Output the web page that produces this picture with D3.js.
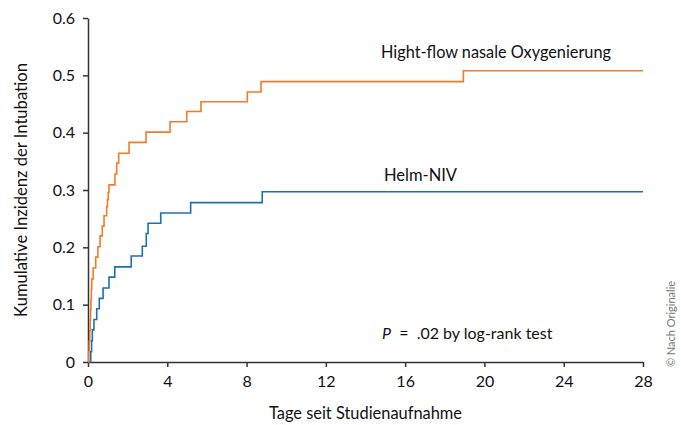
<!DOCTYPE html>
<html>
<head>
	<meta charset="utf-8">
	<title>Kumulative Inzidenz der Intubation</title>
	<script type="text/javascript" src="https://cdn.jsdelivr.net/npm/d3@7"></script>
	<style>
		body { margin: 0; background: #fff; }
		svg text { font-family: Lato, "Open Sans", sans-serif; fill: #111; }
		.axis path, .axis line { stroke: #333; stroke-width: 1.5; }
		.axis text { font-size: 16px; }
	</style>
</head>
<body>

	<div id="chart"></div>

	<script type="text/javascript">

	/* Kaplan-Meier Stufen: Zeit (Tage) und kumulative Inzidenz */
	var hfnoTime  = [0, 0.03, 0.06, 0.09, 0.11, 0.13, 0.15, 0.17, 0.19, 0.26, 0.39, 0.5, 0.61, 0.72, 0.81, 0.94, 0.98, 1.02, 1.06,
		1.36, 1.45, 1.55, 2.07, 2.93, 4.14, 4.98, 5.70, 8.04, 8.73, 18.94, 28];
	var hfnoValue = [0, 0.018, 0.036, 0.055, 0.073, 0.091, 0.109, 0.127, 0.145, 0.164, 0.183, 0.201, 0.22, 0.237, 0.255, 0.271, 0.283, 0.296, 0.309,
		0.328, 0.347, 0.364, 0.383, 0.401, 0.419, 0.437, 0.454, 0.471, 0.489, 0.508, 0.508];

	var helmTime  = [0, 0.14, 0.18, 0.22, 0.30, 0.44, 0.57, 0.76, 1.06, 1.35, 2.18, 2.74, 2.94, 3.03, 3.67, 5.18, 8.79, 28];
	var helmValue = [0, 0.018, 0.037, 0.056, 0.074, 0.093, 0.111, 0.129, 0.148, 0.166, 0.185, 0.202, 0.224, 0.242, 0.26, 0.278, 0.297, 0.297];

	var xTicks = [0, 4, 8, 12, 16, 20, 24, 28];
	var yTicks = [0, 0.1, 0.2, 0.3, 0.4, 0.5, 0.6];
	var yTickLabels = ["0", "0.1", "0.2", "0.3", "0.4", "0.5", "0.6"];

	var width = 681, height = 425;
	var margin = {top: 18, right: 38, bottom: 63, left: 88};

	var svg = d3.select("#chart").append("svg")
		.attr("width", width)
		.attr("height", height);

	var x = d3.scaleLinear().domain([0, 28]).range([margin.left, width - margin.right]);
	var y = d3.scaleLinear().domain([0, 0.6]).range([height - margin.bottom, margin.top]);

	/* Achsen */
	svg.append("g")
		.attr("class", "axis")
		.attr("transform", "translate(0," + y(0) + ")")
		.call(d3.axisBottom(x).tickValues(xTicks).tickSize(5).tickSizeOuter(0).tickPadding(9));

	svg.append("g")
		.attr("class", "axis")
		.attr("transform", "translate(" + x(0) + ",0)")
		.call(d3.axisLeft(y).tickValues(yTicks).tickSize(5).tickSizeOuter(0).tickPadding(8)
			.tickFormat(function(d, i) { return yTickLabels[i]; }));

	svg.selectAll(".axis text").style("fill", "#111");

	/* Kurven */
	var line = d3.line()
		.x(function(d) { return x(d[0]); })
		.y(function(d) { return y(d[1]); })
		.curve(d3.curveStepAfter);

	svg.append("path")
		.datum(d3.zip(helmTime, helmValue))
		.attr("d", line)
		.style("fill", "none")
		.style("stroke", "#1f6fb4")
		.style("stroke-width", 1.6);

	svg.append("path")
		.datum(d3.zip(hfnoTime, hfnoValue))
		.attr("d", line)
		.style("fill", "none")
		.style("stroke", "#f47b2a")
		.style("stroke-width", 1.6);

	/* Beschriftungen */
	svg.append("text")
		.attr("x", 381).attr("y", 57.5)
		.style("font-size", "16.3px")
		.text("Hight-flow nasale Oxygenierung");

	svg.append("text")
		.attr("x", 384).attr("y", 181)
		.style("font-size", "16.5px")
		.text("Helm-NIV");

	var ptext = svg.append("text")
		.attr("x", 382).attr("y", 339)
		.style("font-size", "16px")
		.style("white-space", "pre");
	ptext.append("tspan").style("font-style", "italic").text("P");
	ptext.append("tspan").text("  =  .02 by log-rank test");

	svg.append("text")
		.attr("x", (x(0) + x(28)) / 2).attr("y", 419)
		.attr("text-anchor", "middle")
		.style("font-size", "16.4px")
		.text("Tage seit Studienaufnahme");

	svg.append("text")
		.attr("transform", "translate(27," + (y(0) + y(0.6)) / 2 + ") rotate(-90)")
		.attr("text-anchor", "middle")
		.style("font-size", "16.6px")
		.text("Kumulative Inzidenz der Intubation");

	svg.append("text")
		.attr("transform", "translate(675,324) rotate(-90)")
		.attr("text-anchor", "middle")
		.style("font-size", "11px")
		.style("fill", "#777")
		.text("\u00a9 Nach Originalie");

	</script>
</body>
</html>
